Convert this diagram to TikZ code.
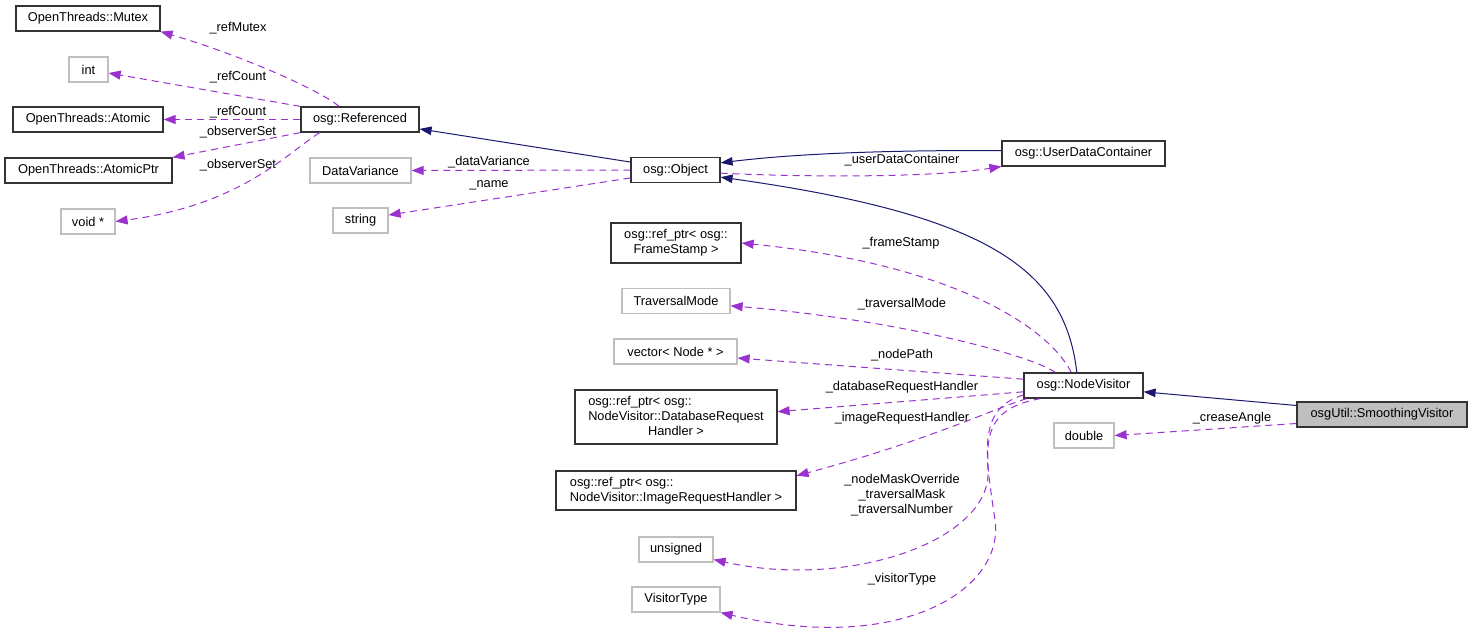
\documentclass[tikz,border=0pt]{standalone}
\usepackage{fontspec}
\setmainfont{Liberation Sans}
\usetikzlibrary{arrows.meta}

\definecolor{inheritblue}{HTML}{191970}
\definecolor{usepurple}{HTML}{9A32CD}
\definecolor{boxgray}{HTML}{BFBFBF}

\begin{document}
\begin{tikzpicture}[x=1pt,y=-1pt]
		\tikzstyle {class box} = [draw=black!80, line width=1.2pt, fill=white, inner sep=0pt, minimum height=25pt, font=\fontsize{12.8}{15}\selectfont]
		\tikzstyle {type box} = [class box, draw=boxgray]
		\tikzstyle {main box} = [class box, fill=boxgray]
		\tikzstyle {member label} = [inner sep=0pt, font=\fontsize{12.8}{15}\selectfont]
		\tikzstyle {inherit} = [draw=inheritblue, line width=1pt, -{Triangle[length=12pt,width=8.5pt]}]
		\tikzstyle {uses} = [draw=usepurple, line width=1pt, dash pattern=on 7pt off 5pt, -{Triangle[length=12pt,width=9pt]}]

		\useasboundingbox (0,0) rectangle (1473,637);

		% left column
		\node[class box, minimum width=144pt] (mutex) at (88,18.5) {OpenThreads::Mutex};
		\node[type box, minimum width=39pt] (intType) at (88.5,69.5) {int};
		\node[class box, minimum width=150pt] (atomic) at (88,119.5) {OpenThreads::Atomic};
		\node[class box, minimum width=167pt] (atomicPtr) at (88.5,170.5) {OpenThreads::AtomicPtr};
		\node[type box, minimum width=54pt] (voidPtr) at (88,221.5) {void *};

		\node[class box, minimum width=118pt] (referenced) at (360,119.5) {osg::Referenced};
		\node[type box, minimum width=101pt] (dataVariance) at (360.5,170.5) {DataVariance};
		\node[type box, minimum width=55pt] (stringType) at (360.5,220.5) {string};

		% middle column
		\node[class box, minimum width=89pt] (object) at (675.5,170) {osg::Object};
		\node[class box, minimum width=130pt, minimum height=40pt, align=center] (frameStamp) at (676,243) {osg::ref\_ptr< osg::\\FrameStamp >};
		\node[type box, minimum width=108pt] (traversalMode) at (676,301) {TraversalMode};
		\node[type box, minimum width=123pt] (nodePath) at (675.5,351.5) {vector< Node * >};
		\node[class box, minimum width=202pt, minimum height=54pt] (dbHandler) at (676,417) {\begin{tabular}{@{}l@{}}osg::ref\_ptr< osg::\\NodeVisitor::DatabaseRequest\\\multicolumn{1}{@{}c@{}}{Handler >}\end{tabular}};
		\node[class box, minimum width=240pt, minimum height=39pt] (imgHandler) at (676,490.5) {\begin{tabular}{@{}l@{}}osg::ref\_ptr< osg::\\NodeVisitor::ImageRequestHandler >\end{tabular}};
		\node[type box, minimum width=74pt] (unsignedType) at (676,549.5) {unsigned};
		\node[type box, minimum width=88pt] (visitorType) at (676,599.5) {VisitorType};

		% right column
		\node[class box, minimum width=163pt] (userData) at (1083.5,153.5) {osg::UserDataContainer};
		\node[class box, minimum width=119pt] (nodeVisitor) at (1083.5,385.5) {osg::NodeVisitor};
		\node[type box, minimum width=60pt] (doubleType) at (1084,435.5) {double};
		\node[main box, minimum width=170pt] (smoothing) at (1382,414.5) {osgUtil::SmoothingVisitor};

		% inheritance
		\draw[inherit] (object.170) -- (referenced.-9);
		\draw[inherit] (userData.178) .. controls (900,150) and (800,153) .. (object.9);
		\draw[inherit] (nodeVisitor.117) .. controls (1065,270) and (990,215) .. (object.-9);
		\draw[inherit] (smoothing.174) -- (nodeVisitor.-6);

		% members of osg::Referenced
		\draw[uses] (referenced.148) .. controls (320,90) and (240,55) .. (mutex.south east);
		\draw[uses] (referenced.north west) -- (intType.-10);
		\draw[uses] (referenced.west) -- (atomic.east);
		\draw[uses] (referenced.south west) -- (atomicPtr.north east);
		\draw[uses] (referenced.198) .. controls (285,155) and (240,205) .. (voidPtr.east);
		\node[member label] (lRefMutex) at (238,28) {\_refMutex};
		\node[member label] (lRefCountA) at (238,77) {\_refCount};
		\node[member label] (lRefCountB) at (238,112) {\_refCount};
		\node[member label] (lObserverA) at (238,132) {\_observerSet};
		\node[member label] (lObserverB) at (238,165) {\_observerSet};

		% members of osg::Object
		\draw[uses] (object.west) -- (dataVariance.east);
		\draw[uses] (object.190) -- (stringType.11);
		\draw[uses] (object.-4) .. controls (800,177) and (930,178) .. (userData.189);
		\node[member label] (lDataVariance) at (489,162) {\_dataVariance};
		\node[member label] (lName) at (489,185) {\_name};
		\node[member label] (lUserData) at (902,160) {\_userDataContainer};

		% members of osg::NodeVisitor
		\draw[uses] (nodeVisitor.133) .. controls (1050,330) and (960,265) .. (frameStamp.east);
		\draw[uses] (nodeVisitor.155) .. controls (1030,355) and (900,320) .. (traversalMode.-5);
		\draw[uses] (nodeVisitor.174) -- (nodePath.-6);
		\draw[uses] (nodeVisitor.186) -- (dbHandler.3);
		\draw[uses] (nodeVisitor.193) .. controls (990,410) and (930,440) .. (imgHandler.7);
		\draw[uses] (nodeVisitor.189) .. controls (990,405) and (985,430) .. (988,470) .. controls (992,540) and (850,590) .. (unsignedType.-15);
		\draw[uses] (nodeVisitor.197) .. controls (975,410) and (985,450) .. (995,520) .. controls (1005,590) and (900,655) .. (visitorType.south east);
		\node[member label] (lFrameStamp) at (901,243) {\_frameStamp};
		\node[member label] (lTraversalMode) at (902,304) {\_traversalMode};
		\node[member label] (lNodePath) at (902,355) {\_nodePath};
		\node[member label] (lDbHandler) at (902,387) {\_databaseRequestHandler};
		\node[member label] (lImgHandler) at (902,418) {\_imageRequestHandler};
		\node[member label, align=center] (lMasks) at (902,495) {\_nodeMaskOverride\\\_traversalMask\\\_traversalNumber};
		\node[member label] (lVisitorType) at (902,579) {\_visitorType};

		% members of osgUtil::SmoothingVisitor
		\draw[uses] (smoothing.186) -- (doubleType.east);
		\node[member label] (lCrease) at (1232,418) {\_creaseAngle};
	\end{tikzpicture}
\end{document}
